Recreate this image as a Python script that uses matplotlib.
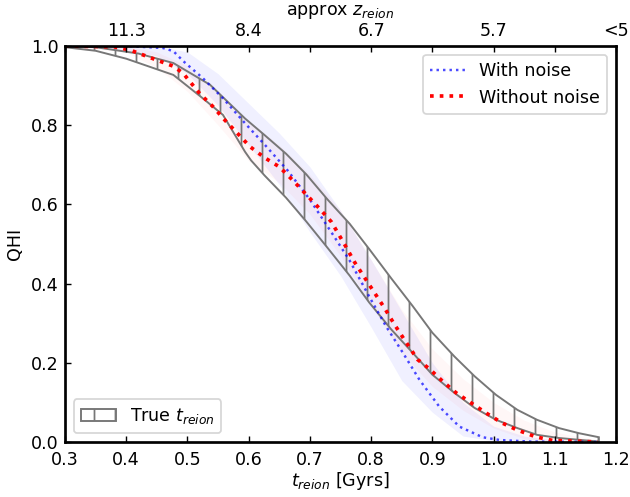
import matplotlib
matplotlib.use("Agg")
import matplotlib.pyplot as plt
import numpy as np

# true t_reion band (upper / lower edge)
t_up = [0.30, 0.35, 0.42, 0.477, 0.537, 0.594, 0.626, 0.661, 0.694, 0.729, 0.765, 0.797,
        0.833, 0.868, 0.900, 0.936, 0.969, 1.004, 1.039, 1.071, 1.107, 1.140, 1.172]
q_up = [1.000, 0.997, 0.981, 0.957, 0.902, 0.817, 0.775, 0.728, 0.676, 0.612, 0.551, 0.487,
        0.413, 0.343, 0.276, 0.216, 0.166, 0.119, 0.081, 0.056, 0.035, 0.022, 0.012]
t_lo = [0.30, 0.35, 0.40, 0.477, 0.525, 0.558, 0.594, 0.604, 0.626, 0.661, 0.694, 0.729,
        0.765, 0.797, 0.833, 0.868, 0.900, 0.936, 0.969, 1.004, 1.039, 1.071, 1.107, 1.172]
q_lo = [0.997, 0.988, 0.968, 0.927, 0.868, 0.826, 0.733, 0.711, 0.673, 0.617, 0.557, 0.490,
        0.420, 0.352, 0.284, 0.225, 0.170, 0.124, 0.086, 0.056, 0.035, 0.018, 0.010, 0.001]

# with noise
t_noise = [0.30, 0.40, 0.46, 0.477, 0.493, 0.525, 0.558, 0.594, 0.629, 0.664, 0.700, 0.737,
           0.765, 0.797, 0.824, 0.852, 0.879, 0.911, 0.944, 0.982, 1.010, 1.060, 1.170]
q_noise = [1.000, 1.000, 0.995, 0.987, 0.962, 0.919, 0.868, 0.805, 0.746, 0.685, 0.612, 0.525,
           0.458, 0.367, 0.293, 0.225, 0.157, 0.090, 0.039, 0.012, 0.005, 0.001, 0.000]

# without noise
t_clean = [0.30, 0.38, 0.406, 0.449, 0.477, 0.493, 0.520, 0.541, 0.561, 0.582, 0.602, 0.626,
           0.650, 0.672, 0.694, 0.716, 0.735, 0.757, 0.773, 0.789, 0.805, 0.822, 0.838, 0.854,
           0.876, 0.895, 0.917, 0.939, 0.963, 0.988, 1.014, 1.039, 1.069, 1.096, 1.170]
q_clean = [1.000, 0.998, 0.990, 0.965, 0.949, 0.931, 0.880, 0.848, 0.813, 0.779, 0.746, 0.718,
           0.695, 0.661, 0.625, 0.589, 0.556, 0.498, 0.454, 0.416, 0.378, 0.338, 0.297, 0.259,
           0.208, 0.185, 0.153, 0.124, 0.099, 0.073, 0.048, 0.030, 0.013, 0.004, 0.000]

# spread bands
t_band = [0.30, 0.40, 0.45, 0.50, 0.55, 0.60, 0.65, 0.70, 0.75, 0.80, 0.85, 0.90, 0.95,
          1.00, 1.05, 1.10, 1.17]
noise_hi = [1.0, 1.0, 1.0, 0.985, 0.93, 0.855, 0.78, 0.695, 0.585, 0.46, 0.33, 0.20, 0.10,
            0.04, 0.015, 0.005, 0.0]
noise_lo = [1.0, 0.99, 0.975, 0.93, 0.85, 0.75, 0.65, 0.53, 0.42, 0.29, 0.155, 0.075, 0.015,
            0.003, 0.0, 0.0, 0.0]
clean_hi = [1.0, 1.0, 0.985, 0.95, 0.88, 0.81, 0.75, 0.675, 0.585, 0.46, 0.335, 0.235, 0.16,
            0.10, 0.055, 0.025, 0.005]
clean_lo = [1.0, 0.985, 0.945, 0.885, 0.80, 0.71, 0.655, 0.575, 0.47, 0.345, 0.225, 0.14, 0.08,
            0.035, 0.008, 0.0, 0.0]

xticks = [0.3, 0.4, 0.5, 0.6, 0.7, 0.8, 0.9, 1.0, 1.1, 1.2]
z_labels = ['', '11.3', '', '8.4', '', '6.7', '', '5.7', '', '<5']

plt.rcParams['font.size'] = 10
plt.rcParams['hatch.linewidth'] = 1.0

fig = plt.figure(figsize=(630 / 126, 497 / 126), dpi=126)
ax = fig.add_axes([0.1032, 0.1107, 0.8746, 0.7967])

ax.fill_between(t_band, noise_lo, noise_hi, color='blue', alpha=0.06, lw=0)
ax.fill_between(t_band, clean_lo, clean_hi, color='red', alpha=0.03, lw=0)

poly_t = np.concatenate([t_up, t_lo[::-1]])
poly_q = np.concatenate([q_up, q_lo[::-1]])
band = ax.fill(poly_t, poly_q, facecolor='none', edgecolor='#777777', hatch='|', lw=1.1,
               label=r'True $t_{reion}$')[0]

l1, = ax.plot(t_noise, q_noise, ':', color='blue', alpha=0.7, lw=1.4, label='With noise')
l2, = ax.plot(t_clean, q_clean, ':', color='red', lw=2.1, label='Without noise')

ax.set_xlim(0.3, 1.2)
ax.set_ylim(0, 1.0)
ax.set_xticks(xticks)
ax.set_yticks([0.0, 0.2, 0.4, 0.6, 0.8, 1.0])
ax.tick_params(direction='in')
ax.tick_params(axis='x', pad=5)
ax.set_xlabel(r'$t_{reion}$ [Gyrs]', labelpad=1)
ax.set_ylabel('QHI')
for s in ax.spines.values():
    s.set_linewidth(1.5)

leg1 = ax.legend(handles=[l1, l2], loc='upper right')
ax.add_artist(leg1)
ax.legend(handles=[band], loc='lower left')

ax2 = ax.twiny()
ax2.set_xlim(ax.get_xlim())
ax2.set_xticks(xticks)
ax2.set_xticklabels(z_labels)
ax2.tick_params(direction='in')
ax2.set_xlabel(r'approx $z_{reion}$', labelpad=4)

fig.savefig('out.png', dpi=126)
